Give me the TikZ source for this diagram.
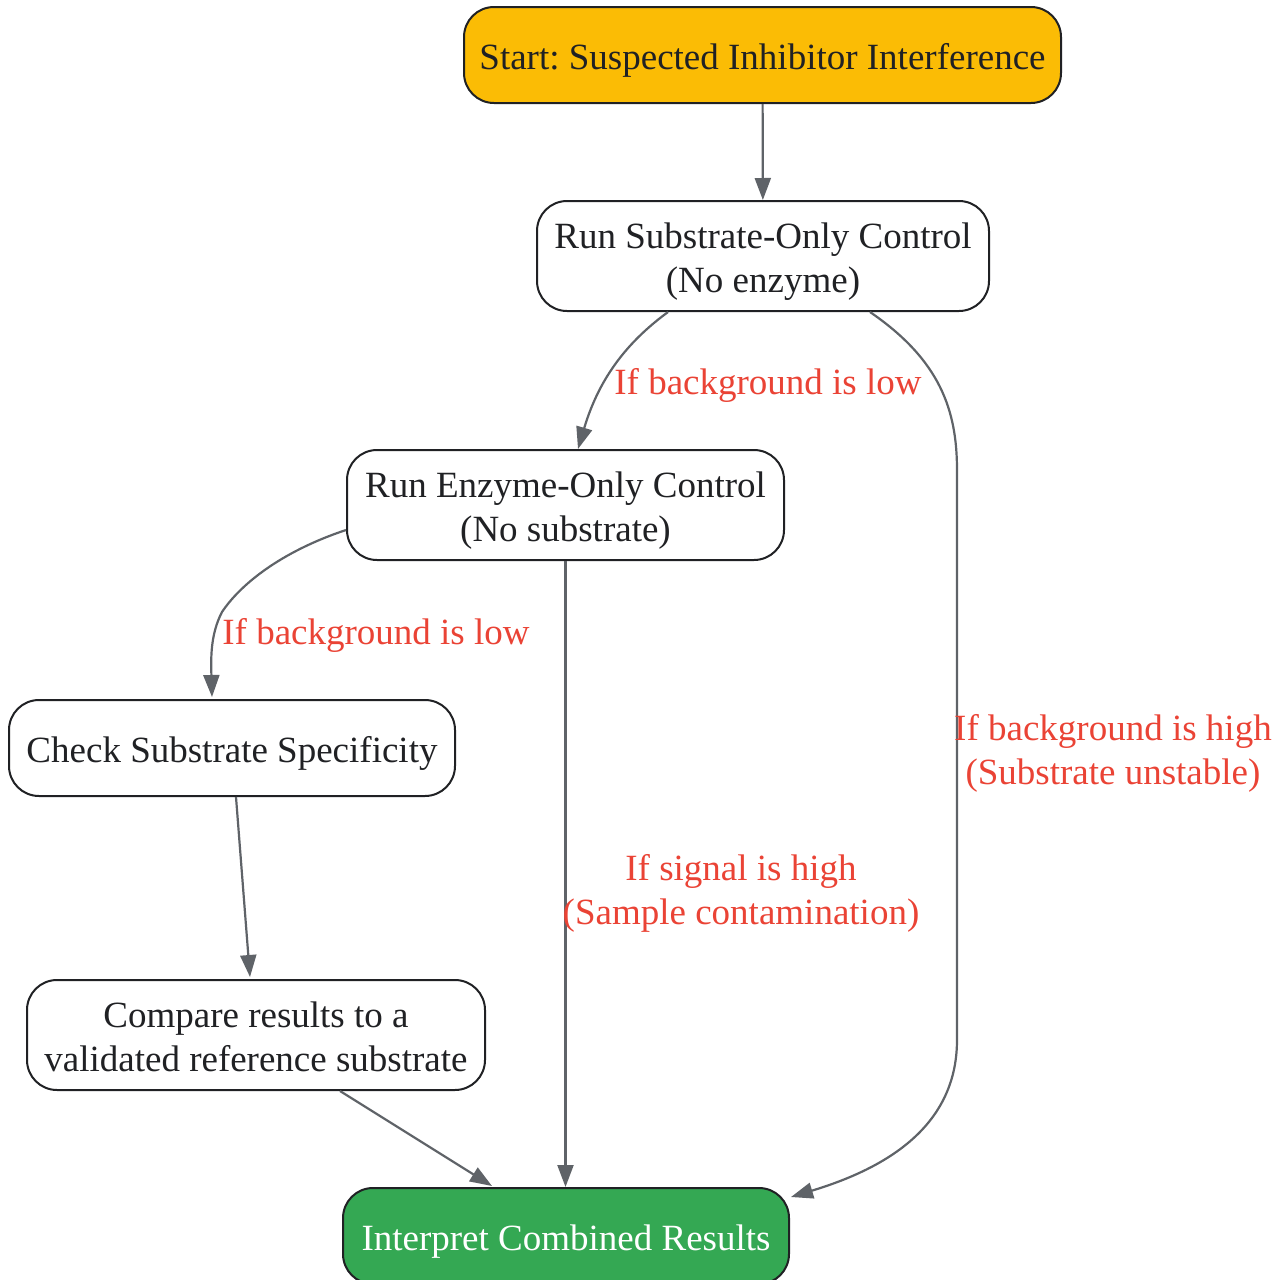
\documentclass[tikz,border=0pt]{standalone}
\usepackage{fontspec}
\setmainfont{Liberation Serif}
\usetikzlibrary{arrows.meta,calc}
\definecolor{startyellow}{HTML}{FBBC05}
\definecolor{endgreen}{HTML}{34A853}
\definecolor{lblred}{HTML}{EA4335}
\definecolor{edgegray}{HTML}{5F6368}
\definecolor{inkdark}{HTML}{202124}
\frenchspacing
\newcommand{\dnl}[1]{\raisebox{-2.75pt}[13pt][4pt]{#1}}
\begin{document}
\begin{tikzpicture}[x=0.5pt,y=-0.5pt,
		box/.style={draw=inkdark, line width=1pt, rounded corners=15pt, shape=rectangle, align=center, inner sep=0, text=inkdark, font=\fontsize{18.5}{22}\selectfont},
		lbl/.style={text=lblred, align=center, inner sep=0, font=\fontsize{18.5}{22}\selectfont},
		edge/.style={draw=edgegray, line width=1.1pt, -{Triangle[length=11pt,width=8pt]}}]
	\useasboundingbox (0,0) rectangle (1281,1280);
	\node[box, fill=startyellow, minimum width=298.5pt, minimum height=48pt] (start) at (762.5,55) {\dnl{Start: Suspected Inhibitor Interference}};
	\node[box, fill=white, minimum width=226pt, minimum height=55pt] (sub) at (763,256) {\dnl{Run Substrate-Only Control}\\\dnl{(No enzyme)}};
	\node[box, fill=white, minimum width=218.5pt, minimum height=55pt] (enz) at (565.5,505) {\dnl{Run Enzyme-Only Control}\\\dnl{(No substrate)}};
	\node[box, fill=white, minimum width=223pt, minimum height=48pt] (spec) at (232,748) {\dnl{Check Substrate Specificity}};
	\node[box, fill=white, minimum width=229pt, minimum height=55pt] (cmp) at (256,1035) {\dnl{Compare results to a}\\\dnl{validated reference substrate}};
	\node[box, fill=endgreen, text=white, minimum width=223pt, minimum height=48pt] (interp) at (566,1236) {\dnl{Interpret Combined Results}};
	% connectors
	\draw[edge] (start) -- (sub);
	\draw[edge] ($(sub.south)+(-95,0)$) .. controls (630,340) and (600,375) .. ($(enz.north)+(12.5,0)$);
	\draw[edge] ($(sub.south)+(107,0)$) .. controls (940,360) and (957,410) .. (957,470) -- (957,1040) .. controls (957,1130) and (880,1170) .. ($(interp.north east)+(1,10)$);
	\draw[edge] ($(enz.west)+(0,25)$) .. controls (280,552) and (240,585) .. (222,612) .. controls (210,635) and (211,660) .. ($(spec.north)+(-20,-2)$);
	\draw[edge] (enz.south) -- (interp.north -| enz.south);
	\draw[edge] ($(spec.south)+(4,0)$) -- ($(cmp.north)+(-6,-2)$);
	\draw[edge] ($(cmp.south)+(84,0)$) -- ($(interp.north)+(-74,-1)$);
	% labels
	\node[lbl] (l1) at (768,385) {If background is low};
	\node[lbl] (l2) at (376,635) {If background is low};
	\node[lbl] (l3) at (1113,753) {If background is high\\(Substrate unstable)};
	\node[lbl] (l4) at (741,893) {If signal is high\\(Sample contamination)};
\end{tikzpicture}
\end{document}
